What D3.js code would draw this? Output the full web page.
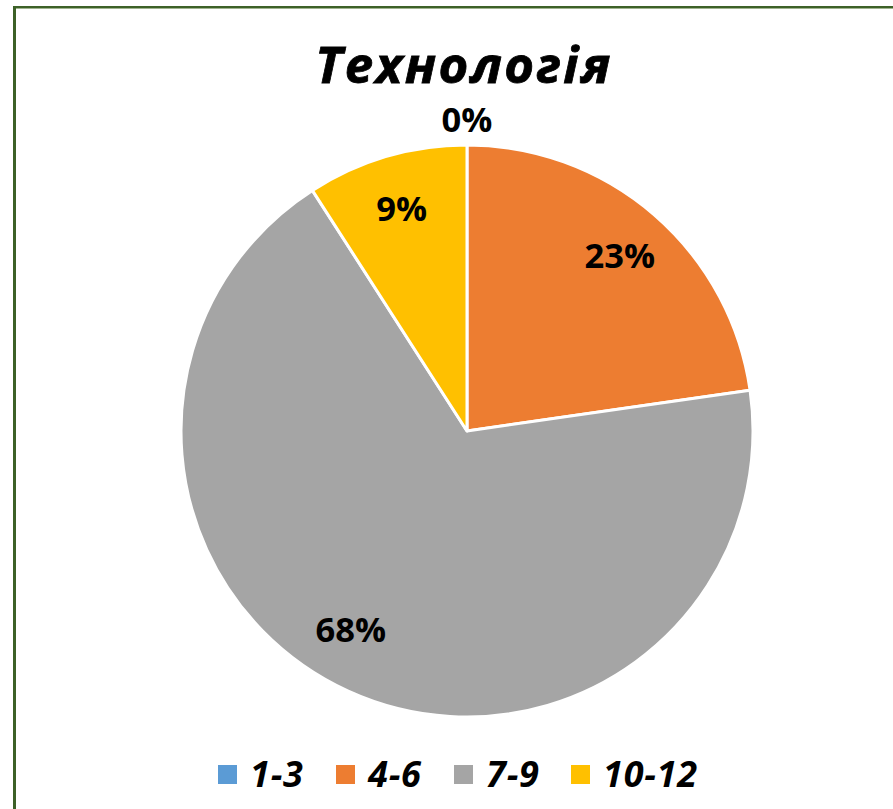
<!DOCTYPE html>
<html><head><meta charset="utf-8">
<script src="https://cdn.jsdelivr.net/npm/d3@7"></script>
<style>
html,body{margin:0;padding:0;background:#fff;}
svg{display:block;}
</style></head>
<body>
<svg id="chart" width="893" height="809"></svg>
<script>
const title = "Технологія";
const categories = ["1-3", "4-6", "7-9", "10-12"];
const values = [0, 5, 15, 2];
const colors = ["#5B9BD5", "#ED7D31", "#A5A5A5", "#FFC000"];

const W = 893, H = 809;
const svg = d3.select("#chart");
const font = "'Open Sans', 'DejaVu Sans', sans-serif";

// border
svg.append("rect").attr("x", 0).attr("y", 0).attr("width", W).attr("height", H).attr("fill", "#fff");
svg.append("rect").attr("x", 13).attr("y", 6).attr("width", W - 13).attr("height", 2).attr("fill", "#3d6128");
svg.append("rect").attr("x", 13).attr("y", 8).attr("width", W - 13).attr("height", 1).attr("fill", "#9fb48f");
svg.append("rect").attr("x", 13).attr("y", 6).attr("width", 3).attr("height", H - 6).attr("fill", "#3d6128");

// title
svg.append("text").attr("x", 464).attr("y", 83).attr("text-anchor", "middle")
  .attr("font-family", font).attr("font-weight", 700).attr("font-style", "italic")
  .attr("font-size", 51).attr("letter-spacing", 2.3).attr("fill", "#000")
  .attr("stroke", "#000").attr("stroke-width", 0.8).text(title);

const cx = 467, cy = 431, R = 286;
const total = d3.sum(values);
const pie = d3.pie().sort(null).value(d => d)(values);
const arc = d3.arc().innerRadius(0).outerRadius(R);
const g = svg.append("g").attr("transform", `translate(${cx},${cy})`);

g.selectAll("path.slice").data(pie).join("path")
  .attr("d", arc).attr("fill", (d, i) => colors[i])
  .attr("stroke", "#fff").attr("stroke-width", 3).attr("stroke-linejoin", "round");

// labels
const fmt = d3.format(".0%");
const labelArcIn = d3.arc().innerRadius(R * 0.81).outerRadius(R * 0.81);
const labelArcOut = d3.arc().innerRadius(R * 1.09).outerRadius(R * 1.09);
const nudge = [[0, 0], [1, 0], [-20, -12], [0, 0]];
g.selectAll("text.lbl").data(pie).join("text")
  .attr("class", "lbl")
  .attr("transform", (d, i) => {
    const c = (d.data === 0 ? labelArcOut : labelArcIn).centroid(d);
    return `translate(${c[0] + nudge[i][0]},${c[1] + nudge[i][1]})`;
  })
  .attr("text-anchor", "middle").attr("dy", "0.36em")
  .attr("font-family", font).attr("font-weight", 700)
  .attr("font-size", 34.5).attr("fill", "#000")
  .text(d => fmt(d.data / total));

// legend
const legX = [218, 336, 454, 571];
const lg = svg.append("g");
categories.forEach((c, i) => {
  lg.append("rect").attr("x", legX[i]).attr("y", 765).attr("width", 19).attr("height", 19)
    .attr("fill", colors[i]);
  lg.append("text").attr("x", legX[i] + 32).attr("y", 787)
    .attr("font-family", font).attr("font-weight", 700).attr("font-style", "italic")
    .attr("font-size", 36).attr("letter-spacing", 0.8).attr("fill", "#000").text(c);
});
</script>
</body></html>
